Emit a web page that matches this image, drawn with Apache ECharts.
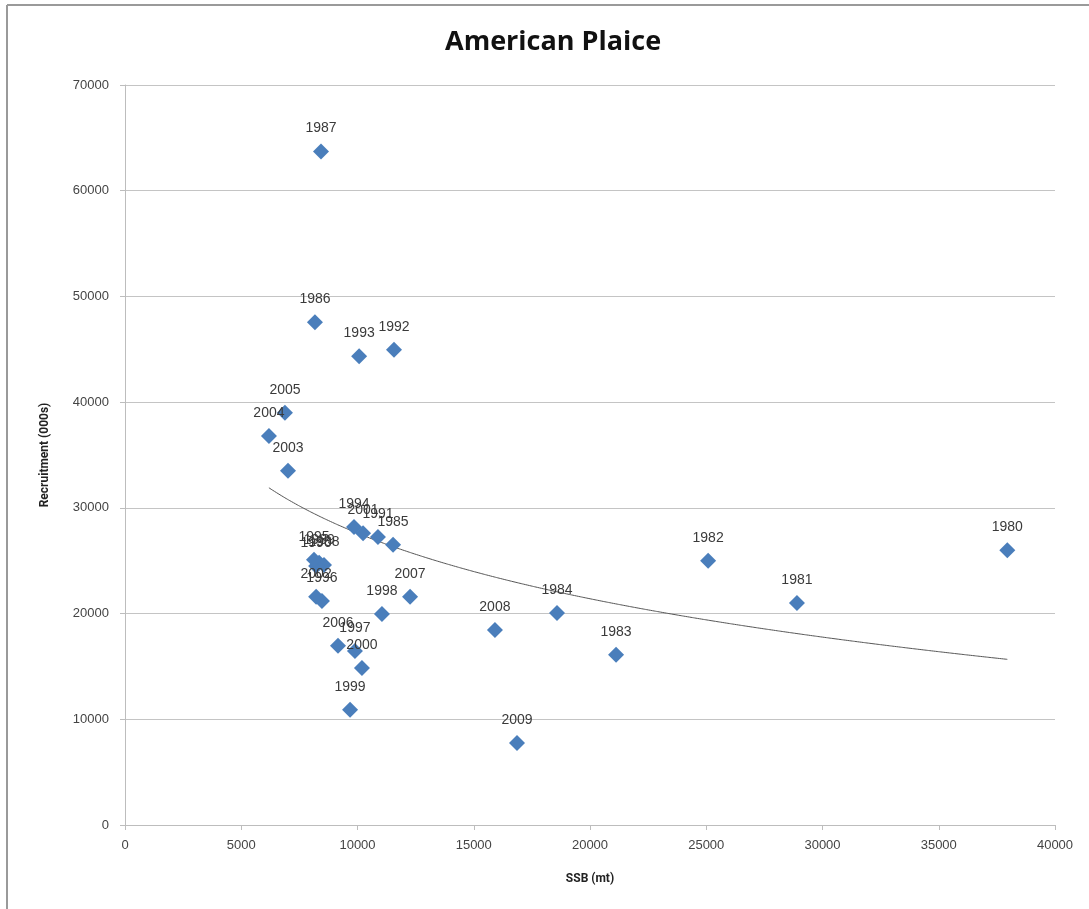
<!DOCTYPE html>
<html><head><meta charset="utf-8">
<script src="https://cdn.jsdelivr.net/npm/echarts@6/dist/echarts.min.js"></script>
<style>html,body{margin:0;padding:0;background:#fff}#c{width:1089px;height:909px}</style>
</head><body><div id="c"></div>
<script>
const years = ['1980','1981','1982','1983','1984','1985','1986','1987','1988','1989','1990','1991','1992','1993','1994','1995','1996','1997','1998','1999','2000','2001','2002','2003','2004','2005','2006','2007','2008','2009'];
const ssb = [37950,28900,25080,21120,18580,11530,8170,8430,8560,8350,8220,10880,11570,10070,9850,8130,8470,9890,11050,9680,10190,10240,8220,7010,6190,6880,9160,12260,15910,16860];
const recruitment = [26000,21000,25000,16100,20050,26500,47550,63700,24600,24800,24500,27250,44950,44350,28200,25100,21200,16450,19950,10900,14850,27600,21600,33500,36800,39000,16950,21600,18450,7750];

const xTicks = {min:0, max:40000, interval:5000};
const yTicks = {min:0, max:70000, interval:10000};

// Logarithmic trendline fitted to the data (least squares on ln(SSB))
const n = ssb.length;
let sx=0, sy=0, sxx=0, sxy=0;
for (let i=0;i<n;i++){const lx=Math.log(ssb[i]); sx+=lx; sy+=recruitment[i]; sxx+=lx*lx; sxy+=lx*recruitment[i];}
const slope = (n*sxy - sx*sy)/(n*sxx - sx*sx);
const icpt = (sy - slope*sx)/n;
const xmin = Math.min(...ssb), xmax = Math.max(...ssb);
const trend = [];
for (let k=0;k<=60;k++){const x = xmin + (xmax-xmin)*k/60; trend.push([x, slope*Math.log(x)+icpt]);}

const pts = ssb.map((x,i)=>({value:[x, recruitment[i]], name:years[i]}));

const chart = echarts.init(document.getElementById('c'), null, {renderer:'canvas'});
chart.setOption({
  animation:false,
  backgroundColor:'#fff',
  title:{text:'American Plaice', left:440, top:24,
    textStyle:{fontFamily:'Open Sans', fontWeight:'bold', fontSize:27, color:'#111'}},
  grid:{left:125, right:34, top:85, bottom:84},
  xAxis:{type:'value', min:xTicks.min, max:xTicks.max, interval:xTicks.interval,
    name:'SSB (mt)', nameLocation:'middle', nameGap:48,
    nameTextStyle:{fontFamily:'Roboto', fontWeight:'bold', fontSize:12, color:'#222'},
    axisLine:{lineStyle:{color:'#bdbdbd'}}, axisTick:{show:true, length:5, lineStyle:{color:'#bdbdbd'}},
    axisLabel:{fontFamily:'Liberation Sans', fontSize:13, color:'#444', margin:14, formatter:v=>String(v)},
    splitLine:{show:false}},
  yAxis:{type:'value', min:yTicks.min, max:yTicks.max, interval:yTicks.interval,
    name:'Recruitment (000s)', nameLocation:'middle', nameGap:74, nameRotate:90,
    nameTextStyle:{fontFamily:'Roboto', fontWeight:'bold', fontSize:12, color:'#222'},
    axisLine:{show:true, lineStyle:{color:'#bdbdbd'}}, axisTick:{show:true, length:5, lineStyle:{color:'#bdbdbd'}},
    axisLabel:{fontFamily:'Liberation Sans', fontSize:13, color:'#444', margin:16, formatter:v=>String(v)},
    splitLine:{show:true, lineStyle:{color:'#c4c4c4', width:1}}},
  series:[
    {type:'line', data:trend, showSymbol:false, smooth:true, z:1,
      lineStyle:{color:'#555', width:1}},
    {type:'scatter', data:pts, symbol:'diamond', symbolSize:[16,16], z:3,
      itemStyle:{color:'#4a7ebb', opacity:1},
      label:{show:true, position:'top', distance:8, formatter:p=>p.name,
        fontFamily:'Liberation Sans', fontSize:14, color:'#3a3a3a'}}
  ],
  graphic:[
    {type:'line', shape:{x1:7, y1:5, x2:1089, y2:5}, style:{stroke:'#9a9a9a', lineWidth:2}},
    {type:'line', shape:{x1:7, y1:5, x2:7, y2:909}, style:{stroke:'#9a9a9a', lineWidth:2}}
  ]
});
</script></body></html>
